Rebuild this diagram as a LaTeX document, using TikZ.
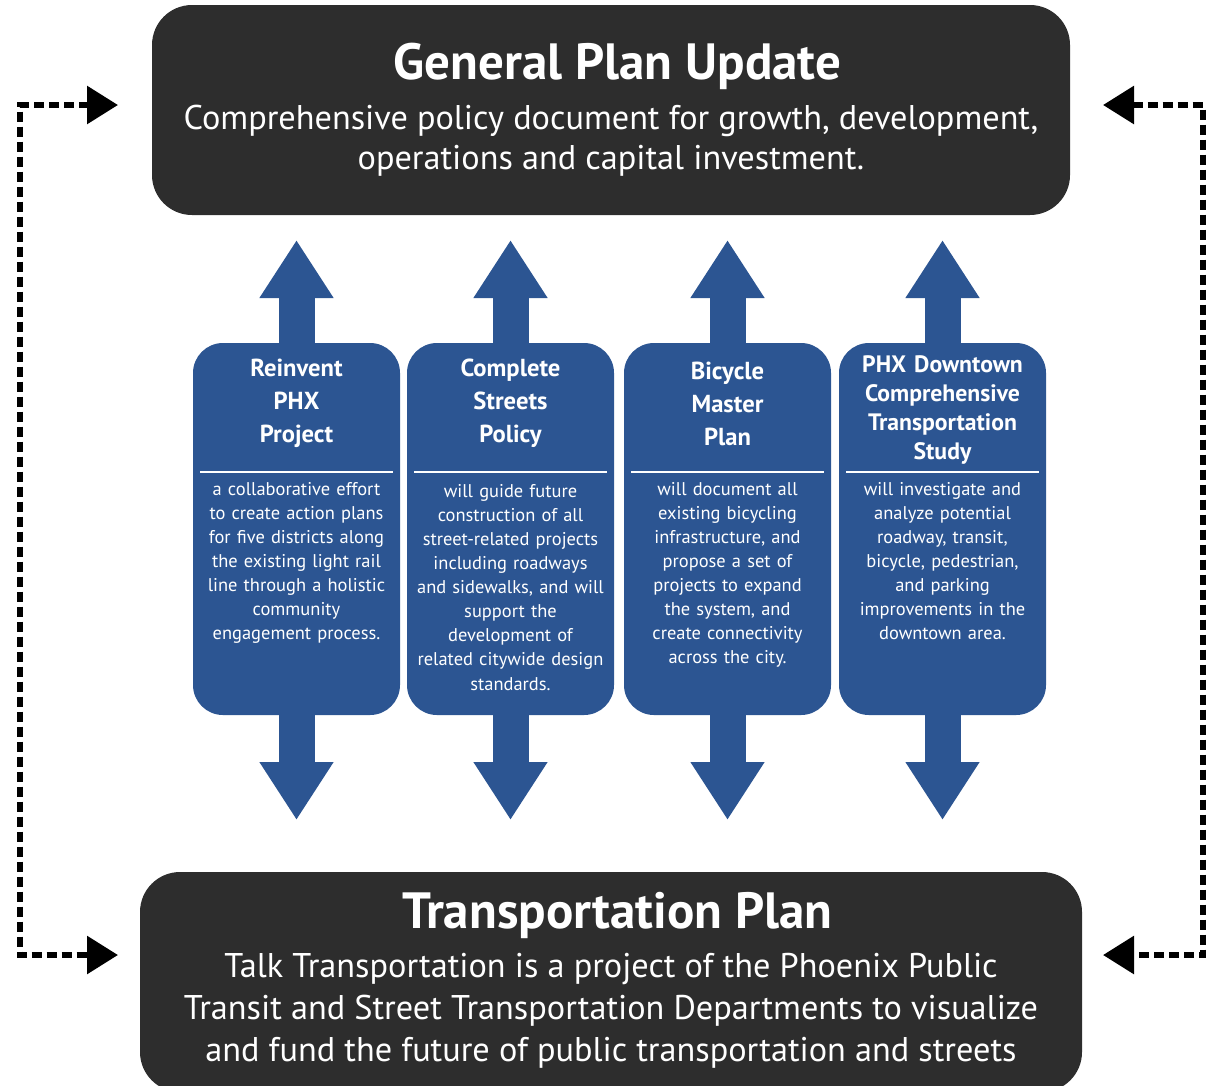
\documentclass[tikz,border=0pt]{standalone}
\usepackage{fontspec}
\setmainfont{PT Sans}
\usetikzlibrary{arrows.meta,positioning}
\definecolor{darkbox}{RGB}{45,45,45}
\definecolor{planblue}{RGB}{44,85,146}
\tikzset{>=Triangle}

\begin{document}
\begin{tikzpicture}[
    planbox/.style={fill=darkbox, rounded corners=0.8cm},
    plantitle/.style={text=white, font=\bfseries\fontsize{29}{34}\selectfont},
    planbody/.style={text=white, align=center, inner sep=0pt},
    studybox/.style={fill=planblue, rounded corners=0.6cm, minimum width=4.14cm, minimum height=7.44cm},
    studytitle/.style={text=white, font=\bfseries\fontsize{14}{18.8}\selectfont, align=center, text width=4.1cm, inner sep=0pt},
    studytext/.style={text=white, font=\fontsize{10.5}{13.7}\selectfont, align=center, text width=4.1cm, inner sep=0pt},
    rule/.style={white, line width=0.04cm},
    bigarrow/.style={planblue, line width=0.72cm, -{Triangle[width=1.4cm,length=1.16cm]}},
    dashlink/.style={line width=0.12cm, dash pattern=on 0.2cm off 0.1cm,
      {Triangle[width=0.74cm,length=0.62cm]}-{Triangle[width=0.74cm,length=0.62cm]}}
  ]
  \useasboundingbox (0,0) rectangle (24.4,-21.7);

  % the two plans
  \node[planbox, minimum width=18.36cm, minimum height=4.2cm] (gp) at (12.22,-2.2) {};
  \node[plantitle] (gptitle) at (12.35,-1.32) {General Plan Update};
  \node[planbody, font=\fontsize{19.5}{22.8}\selectfont] (gpbody) at (12.22,-2.81)
       {Comprehensive policy document for growth, development,\\ operations and capital investment.};

  \node[planbox, minimum width=18.84cm, minimum height=4.4cm] (tp) at (12.22,-19.64) {};
  \node[plantitle] (tptitle) at (12.35,-18.3) {Transportation Plan};
  \node[planbody, font=\fontsize{19.5}{23.8}\selectfont] (tpbody) at (12.22,-20.22)
       {Talk Transportation is a project of the Phoenix Public\\
        Transit and Street Transportation Departments to visualize\\
        and fund the future of public transportation and streets};

  % arrows between the studies and the plans
  \coordinate (up1) at (5.93,-4.8);   \coordinate (dn1) at (5.93,-16.4);
  \coordinate (up2) at (10.21,-4.8);  \coordinate (dn2) at (10.21,-16.4);
  \coordinate (up3) at (14.55,-4.8);  \coordinate (dn3) at (14.55,-16.4);
  \coordinate (up4) at (18.85,-4.8);  \coordinate (dn4) at (18.85,-16.4);
  \foreach \i/\x in {1/5.93,2/10.21,3/14.55,4/18.85} {
    \draw[bigarrow] (\x,-10.58) -- (up\i);
    \draw[bigarrow] (\x,-10.58) -- (dn\i);
  }

  % the four studies
  \node[studybox] (reinvent) at (5.93,-10.58) {};
  \node[studybox] (streets) at (10.21,-10.58) {};
  \node[studybox] (bicycle) at (14.55,-10.58) {};
  \node[studybox] (downtown) at (18.85,-10.58) {};

  \node[studytitle] (reinventtitle) at (5.93,-8.07) {Reinvent\\ PHX\\ Project};
  \node[studytitle] (streetstitle) at (10.21,-8.07) {Complete\\ Streets\\ Policy};
  \node[studytitle] (bicycletitle) at (14.55,-8.07) {Bicycle\\ Master\\ Plan};
  \node[studytitle, font=\bfseries\fontsize{13.5}{16.5}\selectfont] (downtowntitle) at (18.85,-8.2)
       {PHX Downtown\\ Comprehensive\\ Transportation\\ Study};

  \foreach \n in {reinvent,streets,bicycle,downtown} {
    \draw[rule] ([xshift=0.15cm]\n.west |- 0,-9.44) -- ([xshift=-0.15cm]\n.east |- 0,-9.44);
  }

  \node[studytext, anchor=north] (reinventtext) at (5.93,-9.64)
       {a collaborative effort\\ to create action plans\\ for five districts along\\ the existing light rail\\
        line through a holistic\\ community\\ engagement process.};
  \node[studytext, anchor=north] (streetstext) at (10.21,-9.68)
       {will guide future\\ construction of all\\ street-related projects\\ including roadways\\
        and sidewalks, and will\\ support the\\ development of\\ related citywide design\\ standards.};
  \node[studytext, anchor=north] (bicycletext) at (14.55,-9.64)
       {will document all\\ existing bicycling\\ infrastructure, and\\ propose a set of\\
        projects to expand\\ the system, and\\ create connectivity\\ across the city.};
  \node[studytext, anchor=north] (downtowntext) at (18.85,-9.64)
       {will investigate and\\ analyze potential\\ roadway, transit,\\ bicycle, pedestrian,\\
        and parking\\ improvements in the\\ downtown area.};

  % feedback links
  \coordinate (lgp) at (2.36,-2.1);
  \coordinate (ltp) at (2.36,-19.1);
  \coordinate (lside) at (0.4,-10.6);
  \coordinate (rgp) at (22.06,-2.1);
  \coordinate (rtp) at (22.06,-19.1);
  \coordinate (rside) at (24.06,-10.6);
  \draw[dashlink] (lgp) -| (lside) |- (ltp);
  \draw[dashlink] (rgp) -| (rside) |- (rtp);
\end{tikzpicture}
\end{document}
